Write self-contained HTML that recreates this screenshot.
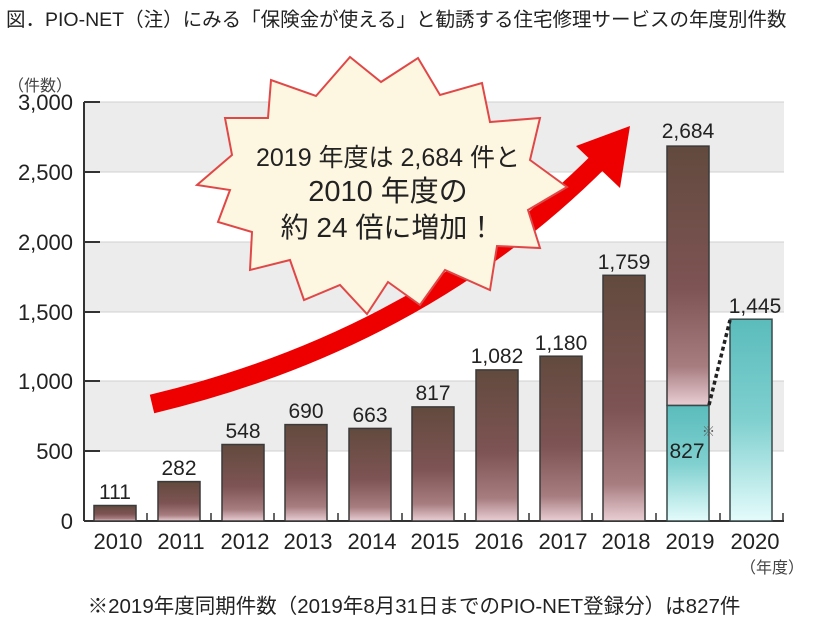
<!DOCTYPE html>
<html><head><meta charset="utf-8"><style>
body{margin:0;background:#fff;}
svg text{font-family:"Liberation Sans","Noto Sans CJK JP",sans-serif;}
</style></head><body>
<svg width="828" height="624" viewBox="0 0 828 624" xmlns="http://www.w3.org/2000/svg">
<defs>
<linearGradient id="br" x1="0" y1="0" x2="0" y2="1">
<stop offset="0" stop-color="#624a3e"/><stop offset="0.55" stop-color="#7e5454"/><stop offset="0.85" stop-color="#a77d80"/><stop offset="1" stop-color="#e9ced4"/>
</linearGradient>
<linearGradient id="tl" x1="0" y1="0" x2="0" y2="1">
<stop offset="0" stop-color="#5bbcbc"/><stop offset="0.5" stop-color="#7fd0cf"/><stop offset="1" stop-color="#e4fbfb"/>
</linearGradient>
</defs>
<text x="6" y="26" font-size="19.5" fill="#222">図．PIO-NET（注）にみる「保険金が使える」と勧誘する住宅修理サービスの年度別件数</text>
<rect x="84" y="102" width="700" height="70" fill="#ececec"/>
<rect x="84" y="242" width="700" height="70" fill="#ececec"/>
<rect x="84" y="381" width="700" height="70" fill="#ececec"/>
<g stroke="#d0d0d0" stroke-width="1">
<line x1="84" y1="102" x2="784" y2="102"/><line x1="84" y1="172" x2="784" y2="172"/><line x1="84" y1="242" x2="784" y2="242"/><line x1="84" y1="312" x2="784" y2="312"/><line x1="84" y1="381" x2="784" y2="381"/><line x1="84" y1="451" x2="784" y2="451"/>
</g>
<g stroke="#333" stroke-width="2">
<line x1="84" y1="102" x2="84" y2="521"/><line x1="84" y1="521" x2="784" y2="521"/>
<line x1="84" y1="102" x2="100" y2="102"/><line x1="84" y1="172" x2="100" y2="172"/><line x1="84" y1="242" x2="100" y2="242"/><line x1="84" y1="312" x2="100" y2="312"/><line x1="84" y1="381" x2="100" y2="381"/><line x1="84" y1="451" x2="100" y2="451"/>
</g>
<g stroke="#333" stroke-width="1.5">
<line x1="147" y1="521" x2="147" y2="513"/><line x1="211" y1="521" x2="211" y2="513"/><line x1="274" y1="521" x2="274" y2="513"/><line x1="338" y1="521" x2="338" y2="513"/><line x1="402" y1="521" x2="402" y2="513"/><line x1="465" y1="521" x2="465" y2="513"/><line x1="529" y1="521" x2="529" y2="513"/><line x1="592" y1="521" x2="592" y2="513"/><line x1="656" y1="521" x2="656" y2="513"/><line x1="720" y1="521" x2="720" y2="513"/><line x1="783" y1="521" x2="783" y2="513"/>
</g>
<g font-size="22" fill="#222" text-anchor="end">
<text x="73" y="110">3,000</text><text x="73" y="180">2,500</text><text x="73" y="250">2,000</text><text x="73" y="320">1,500</text><text x="73" y="389">1,000</text><text x="73" y="459">500</text><text x="73" y="529">0</text>
</g>
<text x="8" y="91" font-size="16" fill="#444">（件数）</text>
<g stroke="#3a3a3a" stroke-width="1.5" fill="url(#br)">
<rect x="94" y="505.5" width="42" height="15.5"/>
<rect x="158" y="481.6" width="42" height="39.4"/>
<rect x="222" y="444.5" width="42" height="76.5"/>
<rect x="285" y="424.6" width="42" height="96.4"/>
<rect x="349" y="428.4" width="42" height="92.6"/>
<rect x="412" y="406.9" width="42" height="114.1"/>
<rect x="476" y="369.9" width="42" height="151.1"/>
<rect x="540" y="356.2" width="42" height="164.8"/>
<rect x="603" y="275.3" width="42" height="245.7"/>
<rect x="667" y="146.1" width="42" height="259.4"/>
</g>
<g stroke="#3a4a4a" stroke-width="1.5" fill="url(#tl)">
<rect x="667" y="405.5" width="42" height="115.5"/>
<rect x="730" y="319.2" width="42" height="201.8"/>
</g>
<line x1="709" y1="405" x2="730" y2="320" stroke="#222" stroke-width="3.5" stroke-dasharray="4,3"/>
<g font-size="21" fill="#222" text-anchor="middle">
<text x="115" y="499">111</text><text x="179" y="475">282</text><text x="243" y="438">548</text><text x="306" y="418">690</text><text x="370" y="422">663</text><text x="433" y="400">817</text><text x="497" y="363">1,082</text><text x="561" y="350">1,180</text><text x="624" y="269">1,759</text><text x="688" y="138">2,684</text><text x="755" y="313">1,445</text>
<text x="687" y="458">827</text>
</g>
<text x="702" y="436" font-size="13" fill="#555">※</text>
<g font-size="22" fill="#222" text-anchor="middle">
<text x="118" y="549">2010</text><text x="181" y="549">2011</text><text x="245" y="549">2012</text><text x="308" y="549">2013</text><text x="372" y="549">2014</text><text x="435" y="549">2015</text><text x="499" y="549">2016</text><text x="563" y="549">2017</text><text x="626" y="549">2018</text><text x="690" y="549">2019</text><text x="755" y="549">2020</text>
</g>
<text x="740" y="573" font-size="16" fill="#444">（年度）</text>
<path d="M152,404 Q420,340 600,160" fill="none" stroke="#ee0000" stroke-width="19"/>
<polygon points="630,126 620,188 576,146" fill="#ee0000"/>
<polygon fill="#fdf6e0" stroke="#e04848" stroke-width="2" points="
350,57 381,82 418,58 440,95 482,83 490,122 540,118 530,160 567,187 528,210 540,248 497,246 490,290 445,270 420,305 388,282 367,314 340,285 304,300 290,260 250,270 252,232 218,222 230,190 197,185 232,155 225,118 268,118 271,80 316,96"/>
<g fill="#222" text-anchor="middle">
<text x="388" y="166" font-size="25">2019 年度は 2,684 件と</text>
<text x="388" y="201" font-size="29">2010 年度の</text>
<text x="388" y="237" font-size="28">約 24 倍に増加！</text>
</g>
<text x="414" y="613" font-size="20.5" fill="#222" text-anchor="middle">※2019年度同期件数（2019年8月31日までのPIO-NET登録分）は827件</text>
</svg>
</body></html>
